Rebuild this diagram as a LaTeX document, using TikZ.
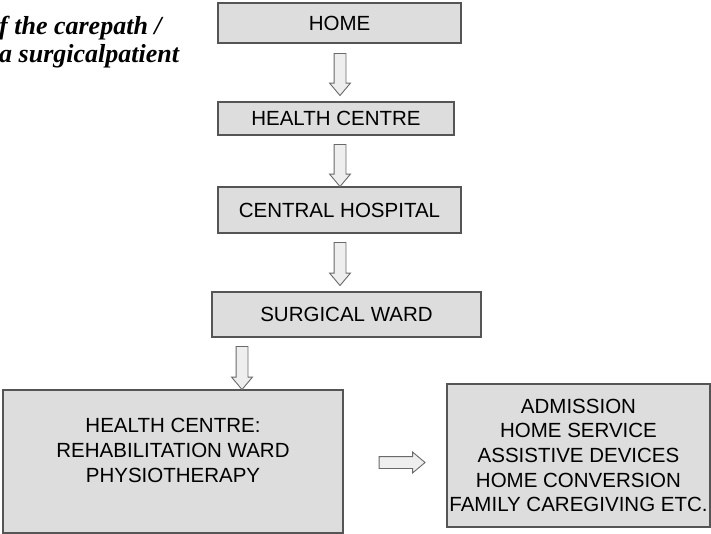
\documentclass[tikz,border=0pt]{standalone}
\usepackage{fontspec}
\setmainfont{Liberation Sans}
\newfontfamily\titlefont{Liberation Serif}
\usetikzlibrary{shapes.arrows}
\definecolor{boxfill}{RGB}{221,221,221}
\definecolor{boxline}{RGB}{85,85,85}
\definecolor{arrowfill}{RGB}{238,238,238}
\definecolor{arrowline}{RGB}{105,105,105}
\begin{document}
\begin{tikzpicture}[x=1pt,y=-1pt,
  box/.style={draw=boxline, fill=boxfill, line width=1.3pt, inner sep=0pt,
    align=center, font=\fontsize{20.5}{24.7}\selectfont},
  boxtext/.style={inner sep=0pt, align=center, font=\fontsize{20.5}{25}\selectfont},
  barrow/.style={single arrow, draw=arrowline, fill=arrowfill, line width=0.9pt,
    inner xsep=0pt, inner ysep=5.5pt, text width=0pt, text height=0pt, text depth=0pt,
    minimum height=#1, single arrow head extend=4.5pt, single arrow tip angle=80},
  titletext/.style={inner sep=0pt, anchor=base west, font=\titlefont\bfseries\itshape\fontsize{26}{28}\selectfont}]
\useasboundingbox (0,0) rectangle (711,534);
% title (cropped)
\node[titletext] (t1) at (-1,35) {f the carepath /};
\node[titletext] (t2) at (-1,63) {a surgicalpatient};
% boxes
\node[box, minimum width=243pt, minimum height=40pt] (home) at (339.5,23) {HOME};
\node[box, minimum width=236pt, minimum height=33pt] (hc) at (336,118.5) {HEALTH CENTRE};
\node[box, minimum width=243pt, minimum height=46pt] (ch) at (339.5,210) {CENTRAL HOSPITAL};
\node[box, minimum width=269pt, minimum height=45pt] (sw) at (346.5,314.5) {SURGICAL WARD};
\node[box, minimum width=340pt, minimum height=143pt] (rehab) at (173,461.5) {};
\node[boxtext] (rehabtext) at (173,450) {HEALTH CENTRE:\\REHABILITATION WARD\\PHYSIOTHERAPY};
\node[box, minimum width=263pt, minimum height=143pt] (serv) at (578.5,455.5)
  {ADMISSION\\HOME SERVICE\\ASSISTIVE DEVICES\\HOME CONVERSION\\FAMILY CAREGIVING ETC.};
% block arrows
\node[barrow=42pt, rotate=-90] (a1) at (340,71) {};
\node[barrow=42pt, rotate=-90] (a2) at (340,162) {};
\node[barrow=43pt, rotate=-90] (a3) at (340,260.5) {};
\node[barrow=43pt, rotate=-90] (a4) at (242,364.5) {};
\node[barrow=46pt] (a5) at (398.5,462.5) {};
\end{tikzpicture}
\end{document}
